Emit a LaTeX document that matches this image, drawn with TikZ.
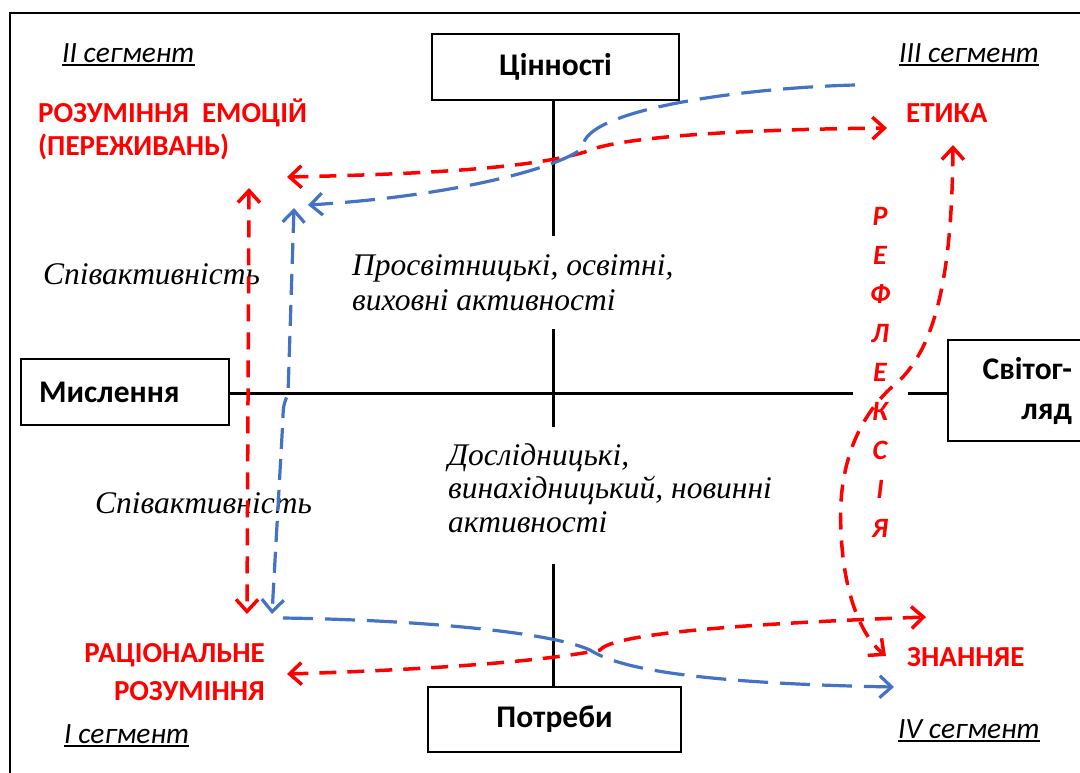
\documentclass[tikz,border=0pt]{standalone}
\usepackage{fontspec}
\setmainfont{Carlito}
\newfontfamily\tnr{Liberation Serif}
\usetikzlibrary{arrows.meta}
\definecolor{ured}{RGB}{255,0,0}
\definecolor{ublue}{RGB}{68,114,196}
\begin{document}
\begin{tikzpicture}[x=1pt,y=-1pt,
  >={Straight Barb[length=12pt, width=22pt]},
  box/.style={draw, line width=1.5pt, inner sep=0pt, font=\fontsize{31.5}{40}\selectfont\bfseries},
  segm/.style={font=\fontsize{29.4}{32}\selectfont\itshape, inner sep=0pt, anchor=base west},
  redlab/.style={text=ured, font=\fontsize{29}{33}\selectfont\bfseries, inner sep=0pt},
  serif/.style={font=\tnr\itshape\fontsize{31.5}{35}\selectfont, fill=white, align=left, inner xsep=4pt, anchor=west},
  axis/.style={line width=3pt},
  redarr/.style={draw=ured, line width=3.5pt, dash pattern=on 17pt off 11pt},
  bluearr/.style={draw=ublue, line width=3.2pt, dash pattern=on 30pt off 12pt},
  blueshort/.style={draw=ublue, line width=3.2pt, dash pattern=on 21pt off 10pt},
]
\useasboundingbox (0,0) rectangle (1080,772);
% frame
\draw[line width=2pt] (10,13) rectangle (1095,790);

% boxes
\node[box, minimum width=247pt, minimum height=66pt] (cin) at (555.5,67) {Цінності};
\node[box, minimum width=208pt, minimum height=66pt, text width=172pt, inner xsep=18pt, align=left] (mysl) at (125,392) {Мислення};
\node[box, minimum width=152pt, minimum height=101pt, text width=96pt, inner xsep=28pt, align=right] (svit) at (1024,390.5) {Світог-\\ляд};
\node[box, minimum width=253pt, minimum height=65pt] (potr) at (554.5,719.5) {Потреби};

% axes
\coordinate (o) at (553,393);
\draw[axis] (cin.south -| o) -- (potr.north -| o);
\draw[axis] (mysl.east |- o) -- (svit.west |- o);

% serif italic texts
\node[serif, inner ysep=18pt] (prosv) at (348,282.5) {Просвітницькі, освітні,\\виховні активності};
\node[serif, inner ysep=17pt, font=\tnr\itshape\fontsize{31.5}{33.5}\selectfont] (dosl) at (444,495.5) {Дослідницькі,\\винахідницький, новинні\\активності\rule[-15pt]{0pt}{15pt}};
\node[serif, inner ysep=22pt] (spiv1) at (39,274.5) {Співактивність};
\node[serif, inner ysep=17pt] (spiv2) at (91,503.5) {Співактивність};

% red labels
\node[redlab, anchor=base west] (emo1) at (38,122) {РОЗУМІННЯ\ \ ЕМОЦІЙ};
\node[redlab, anchor=base west] (emo2) at (38,155) {(ПЕРЕЖИВАНЬ)};
\node[redlab, anchor=base west] (etyka) at (906,122) {ЕТИКА};
\node[redlab, anchor=base east] (rac1) at (265,662) {РАЦІОНАЛЬНЕ};
\node[redlab, anchor=base east] (rac2) at (265,700) {РОЗУМІННЯ};
\node[redlab, anchor=base west] (znan) at (907,666) {ЗНАННЯЕ};
\node[redlab, font=\fontsize{28}{39.1}\selectfont\bfseries\itshape, align=center, fill=white, minimum width=55pt] (refl) at (880,372.5) {Р\\Е\\Ф\\Л\\Е\\К\\С\\І\\Я};

% segment labels
\node[segm] (s2) at (62,62) {II сегмент};
\node[segm] (s3) at (899,62) {III сегмент};
\node[segm] (s1) at (64,743) {I сегмент};
\node[segm] (s4) at (898,738) {IV сегмент};
\foreach \s in {s1,s2,s3,s4}
  \draw[line width=2pt] ([yshift=-3pt]\s.base west) -- ([yshift=-3pt]\s.base east);

% connector end points
\coordinate (r1a) at (287,177); \coordinate (r1b) at (887,128);
\coordinate (b1a) at (855,85);  \coordinate (b1b) at (308,205);
\coordinate (r2a) at (287,674); \coordinate (r2b) at (926,617);
\coordinate (b2a) at (283,618); \coordinate (b2b) at (894,687);
\coordinate (r3a) at (249,188); \coordinate (r3b) at (247,614);
\coordinate (b3a) at (294,208); \coordinate (b3b) at (272,614);
\coordinate (r4a) at (953,145); \coordinate (r4b) at (886,656);

% red connectors
\draw[redarr, <->] (r1a) .. controls (430,174) and (530,168) .. (585,152)
   .. controls (610,140) and (700,130) .. (r1b);
\draw[redarr, <->] (r2a) .. controls (420,670) and (540,662) .. (600,650)
   .. controls (610,638) and (680,626) .. (r2b);
\draw[redarr, <->] (r3a) -- (r3b);
\draw[redarr, <->] (r4a) .. controls (952,260) and (940,340) .. (900,380)
   .. controls (850,420) and (838,480) .. (841,530)
   .. controls (843,590) and (860,635) .. (r4b);

% blue connectors
\draw[bluearr, ->] (b1a) .. controls (740,88) and (583,110) .. (583,147)
   .. controls (570,163) and (470,195) .. (b1b);
\draw[bluearr, ->] (b2a) .. controls (420,620) and (550,632) .. (590,650)
   .. controls (615,666) and (680,683) .. (b2b);
\draw[blueshort, <->] (b3a) -- (288,395) .. controls (285,400) and (283,405) .. (283,418) -- (b3b);
\end{tikzpicture}
\end{document}
